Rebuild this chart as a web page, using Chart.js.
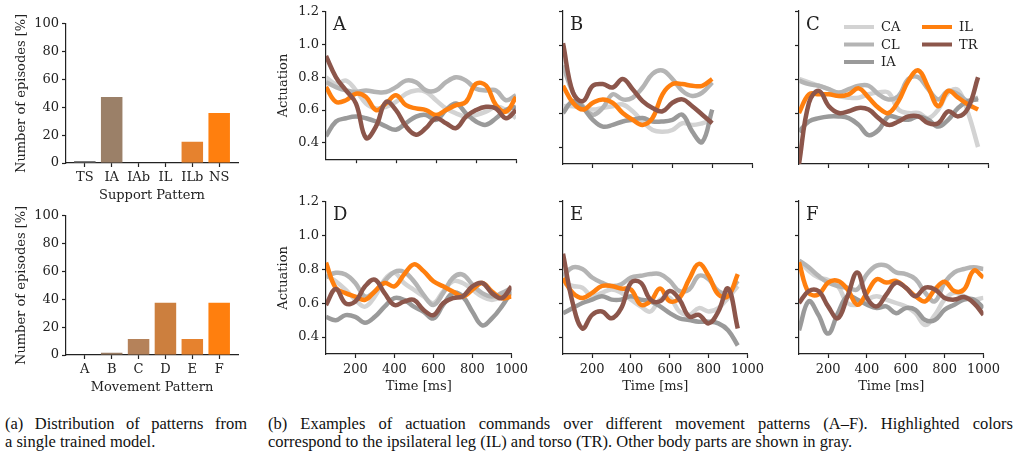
<!DOCTYPE html>
<html>
<head>
<meta charset="utf-8">
<script src="https://cdn.jsdelivr.net/npm/chart.js@4.4.1/dist/chart.umd.min.js"></script>
<style>
  body { margin: 0; background: #fff; width: 1020px; height: 461px; overflow: hidden; position: relative; }
  canvas { position: absolute; }
  .cap { position: absolute; font-family: "Liberation Serif", "Times New Roman", serif; font-size: 16.5px; line-height: 18px; color: #111; white-space: nowrap; }
  .just { text-align: justify; text-align-last: justify; white-space: normal; }
</style>
</head>
<body>
<canvas id="barSupport"></canvas>
<canvas id="barMovement"></canvas>
<canvas id="panelA"></canvas>
<canvas id="panelB"></canvas>
<canvas id="panelC"></canvas>
<canvas id="panelD"></canvas>
<canvas id="panelE"></canvas>
<canvas id="panelF"></canvas>

<div class="cap just" style="left:5px; top:415px; width:242px;">(a) Distribution of patterns from</div>
<div class="cap" style="left:5px; top:433px;">a single trained model.</div>
<div class="cap just" style="left:268px; top:415px; width:745px;">(b) Examples of actuation commands over different movement patterns (A–F). Highlighted colors</div>
<div class="cap" style="left:268px; top:433px;">correspond to the ipsilateral leg (IL) and torso (TR). Other body parts are shown in gray.</div>

<script>
// bar panels (a)
const SUPPORT_LABELS = ["TS", "IA", "IAb", "IL", "ILb", "NS"];
const SUPPORT_VALUES = [1.4, 47.5, 0, 0, 15.3, 36.0];
const SUPPORT_COLORS = ["#7a7a7a", "#9b8068", "#b0805c", "#c8803f", "#e6822e", "#ff7f0e"];

const MOVEMENT_LABELS = ["A", "B", "C", "D", "E", "F"];
const MOVEMENT_VALUES = [0, 1.6, 11.5, 37.5, 11.5, 37.5];
const MOVEMENT_COLORS = ["#8c7868", "#9b7e64", "#b5825a", "#cc7f3e", "#e6822e", "#ff7f0e"];

const BAR_Y_TICKS = [0, 20, 40, 60, 80, 100];

// actuation panels (b)
const TIME = [50, 100, 150, 200, 250, 300, 350, 400, 450, 500, 550, 600, 650, 700, 750, 800, 850, 900, 950, 1000];
const TIME_TICKS = [200, 400, 600, 800, 1000];
const ACT_TICKS = [0.4, 0.6, 0.8, 1.0, 1.2];
const PARTS = ["CA", "CL", "IA", "IL", "TR"];
const PART_COLORS = ["#d3d3d3", "#b4b4b4", "#9a9a9a", "#ff7f0e", "#8c564b"];

const A_CA = [0.80, 0.76, 0.78, 0.72, 0.64, 0.61, 0.62, 0.65, 0.70, 0.72, 0.71, 0.66, 0.61, 0.58, 0.56, 0.57, 0.59, 0.62, 0.60, 0.55];
const A_CL = [0.77, 0.74, 0.72, 0.71, 0.72, 0.71, 0.71, 0.74, 0.78, 0.77, 0.72, 0.72, 0.77, 0.80, 0.78, 0.73, 0.72, 0.72, 0.66, 0.69];
const A_IA = [0.44, 0.53, 0.55, 0.56, 0.55, 0.53, 0.50, 0.48, 0.52, 0.56, 0.57, 0.54, 0.60, 0.64, 0.58, 0.53, 0.51, 0.55, 0.60, 0.62];
const A_IL = [0.74, 0.65, 0.66, 0.70, 0.68, 0.60, 0.64, 0.69, 0.63, 0.61, 0.60, 0.57, 0.60, 0.63, 0.65, 0.76, 0.75, 0.63, 0.59, 0.68];
const A_TR = [0.93, 0.80, 0.72, 0.64, 0.43, 0.50, 0.65, 0.60, 0.50, 0.45, 0.49, 0.55, 0.52, 0.49, 0.56, 0.60, 0.62, 0.61, 0.55, 0.60];

const B_CA = [0.64, 0.64, 0.63, 0.62, 0.63, 0.64, 0.65, 0.61, 0.55, 0.50, 0.49, 0.50, 0.54, 0.53, 0.54, 0.56];
const B_CL = [0.88, 0.72, 0.64, 0.59, 0.63, 0.71, 0.68, 0.69, 0.75, 0.83, 0.85, 0.80, 0.73, 0.70, 0.72, 0.78];
const B_IA = [0.60, 0.67, 0.63, 0.56, 0.52, 0.53, 0.55, 0.56, 0.57, 0.55, 0.55, 0.56, 0.59, 0.49, 0.43, 0.62];
const B_IL = [0.76, 0.66, 0.62, 0.66, 0.68, 0.66, 0.60, 0.56, 0.53, 0.57, 0.71, 0.77, 0.77, 0.76, 0.76, 0.80];
const B_TR = [1.01, 0.72, 0.67, 0.76, 0.77, 0.75, 0.80, 0.74, 0.67, 0.63, 0.61, 0.66, 0.68, 0.64, 0.59, 0.54];

const C_CA = [0.80, 0.78, 0.76, 0.74, 0.70, 0.69, 0.69, 0.71, 0.72, 0.72, 0.62, 0.60, 0.60, 0.57, 0.62, 0.72, 0.735, 0.60, 0.40];
const C_CL = [0.79, 0.77, 0.76, 0.74, 0.72, 0.74, 0.76, 0.76, 0.71, 0.68, 0.70, 0.80, 0.81, 0.74, 0.68, 0.73, 0.71, 0.67, 0.69];
const C_IA = [0.49, 0.55, 0.57, 0.58, 0.58, 0.57, 0.53, 0.47, 0.50, 0.58, 0.57, 0.56, 0.58, 0.56, 0.52, 0.56, 0.63, 0.67, 0.68];
const C_IL = [0.60, 0.71, 0.71, 0.71, 0.70, 0.71, 0.745, 0.69, 0.63, 0.60, 0.67, 0.79, 0.85, 0.75, 0.64, 0.73, 0.69, 0.65, 0.62];
const C_TR = [0.30, 0.66, 0.73, 0.64, 0.60, 0.61, 0.63, 0.62, 0.57, 0.53, 0.55, 0.58, 0.58, 0.54, 0.54, 0.61, 0.58, 0.63, 0.81];

const D_CA = [0.765, 0.73, 0.68, 0.62, 0.58, 0.64, 0.74, 0.78, 0.72, 0.68, 0.64, 0.60, 0.67, 0.73, 0.72, 0.68, 0.64, 0.62, 0.64, 0.68];
const D_CL = [0.755, 0.78, 0.77, 0.72, 0.64, 0.67, 0.73, 0.785, 0.785, 0.73, 0.65, 0.59, 0.66, 0.75, 0.77, 0.71, 0.66, 0.64, 0.66, 0.69];
const D_IA = [0.52, 0.50, 0.53, 0.52, 0.485, 0.52, 0.58, 0.63, 0.62, 0.58, 0.55, 0.51, 0.59, 0.66, 0.64, 0.55, 0.47, 0.51, 0.58, 0.67];
const D_IL = [0.84, 0.69, 0.66, 0.64, 0.62, 0.67, 0.72, 0.70, 0.77, 0.83, 0.79, 0.73, 0.70, 0.67, 0.64, 0.68, 0.72, 0.67, 0.63, 0.64];
const D_TR = [0.59, 0.685, 0.60, 0.61, 0.70, 0.74, 0.66, 0.59, 0.61, 0.62, 0.56, 0.53, 0.60, 0.63, 0.64, 0.70, 0.72, 0.66, 0.63, 0.70];

const E_CA = [0.72, 0.70, 0.69, 0.64, 0.66, 0.68, 0.66, 0.62, 0.58, 0.55, 0.62, 0.63, 0.55, 0.53, 0.57, 0.55, 0.57, 0.63, 0.70];
const E_CL = [0.76, 0.81, 0.80, 0.75, 0.72, 0.70, 0.71, 0.75, 0.76, 0.77, 0.77, 0.73, 0.67, 0.68, 0.76, 0.74, 0.67, 0.66, 0.73];
const E_IA = [0.54, 0.57, 0.60, 0.62, 0.64, 0.62, 0.62, 0.64, 0.62, 0.61, 0.58, 0.54, 0.51, 0.50, 0.49, 0.49, 0.48, 0.44, 0.35];
const E_IL = [0.745, 0.66, 0.63, 0.66, 0.70, 0.70, 0.685, 0.68, 0.59, 0.61, 0.685, 0.61, 0.63, 0.74, 0.83, 0.76, 0.65, 0.64, 0.77];
const E_TR = [0.89, 0.60, 0.45, 0.53, 0.55, 0.51, 0.57, 0.72, 0.72, 0.62, 0.61, 0.67, 0.62, 0.52, 0.53, 0.48, 0.55, 0.685, 0.45];

const F_CA = [0.85, 0.79, 0.75, 0.735, 0.70, 0.60, 0.59, 0.62, 0.64, 0.62, 0.60, 0.58, 0.54, 0.47, 0.53, 0.62, 0.66, 0.64, 0.62, 0.63];
const F_CL = [0.85, 0.81, 0.76, 0.72, 0.70, 0.69, 0.68, 0.77, 0.82, 0.82, 0.78, 0.77, 0.74, 0.66, 0.61, 0.72, 0.78, 0.80, 0.81, 0.80];
const F_IA = [0.44, 0.61, 0.53, 0.42, 0.54, 0.64, 0.62, 0.59, 0.57, 0.58, 0.54, 0.57, 0.56, 0.50, 0.50, 0.56, 0.59, 0.62, 0.62, 0.57];
const F_IL = [0.84, 0.66, 0.65, 0.72, 0.73, 0.68, 0.59, 0.66, 0.74, 0.72, 0.73, 0.69, 0.64, 0.61, 0.68, 0.725, 0.67, 0.68, 0.79, 0.75];
const F_TR = [0.60, 0.67, 0.67, 0.58, 0.51, 0.64, 0.78, 0.63, 0.58, 0.65, 0.72, 0.69, 0.64, 0.69, 0.68, 0.63, 0.62, 0.635, 0.60, 0.53];

const INK = "#222";
const FONT = "'DejaVu Serif', serif";

Chart.defaults.font.family = FONT;
Chart.defaults.font.size = 13;
Chart.defaults.color = INK;

function place(canvas, left, top, width, height) {
  canvas.width = width;
  canvas.height = height;
  canvas.style.left = left + "px";
  canvas.style.top = top + "px";
  canvas.style.width = width + "px";
  canvas.style.height = height + "px";
}

function axisLook() {
  return {
    grid: { display: true, offset: false, drawOnChartArea: false, drawTicks: true, tickLength: 4, tickWidth: 1.2, tickColor: INK },
    border: { display: true, color: INK, width: 1.2 },
  };
}

const letterPlugin = {
  id: "letter",
  afterDraw(chart, args, opts) {
    if (!opts.text) return;
    const { ctx, chartArea } = chart;
    ctx.save();
    ctx.font = "18px " + FONT;
    ctx.fillStyle = INK;
    ctx.textBaseline = "alphabetic";
    ctx.fillText(opts.text, chartArea.left + 7, chartArea.top + 18.5);
    ctx.restore();
  }
};

const partLegend = {
  id: "partLegend",
  afterDraw(chart, args, opts) {
    if (!opts.show) return;
    const { ctx, chartArea } = chart;
    ctx.save();
    ctx.font = "13px " + FONT;
    ctx.fillStyle = INK;
    ctx.textBaseline = "middle";
    chart.data.datasets.forEach((ds, i) => {
      const col = i < 3 ? 0 : 1;
      const row = i < 3 ? i : i - 3;
      const x0 = chartArea.left + 45 + col * 78;
      const y = chartArea.top + 16 + row * 17.5;
      ctx.strokeStyle = ds.borderColor;
      ctx.lineWidth = 4;
      ctx.beginPath();
      ctx.moveTo(x0, y);
      ctx.lineTo(x0 + 30, y);
      ctx.stroke();
      ctx.fillText(ds.label, x0 + 37, y + 1);
    });
    ctx.restore();
  }
};

// plot area rectangles are given as the axes box in page pixels
function barChart(id, box, labels, values, colors, xTitle) {
  const YW = 66, XH = 44, PT = 10, PR = 12;
  const canvas = document.getElementById(id);
  place(canvas, box.left - YW, box.top - PT, box.right - box.left + YW + PR, box.bottom - box.top + PT + XH);
  new Chart(canvas, {
    type: "bar",
    data: {
      datasets: [{
        data: values.map((v, i) => ({ x: i, y: v })),
        backgroundColor: colors,
        barPercentage: 0.8,
        categoryPercentage: 1.0,
      }]
    },
    options: {
      responsive: false,
      animation: false,
      devicePixelRatio: 1,
      layout: { padding: { top: PT, right: PR, left: 0, bottom: 0 } },
      plugins: { legend: { display: false }, tooltip: { enabled: false } },
      scales: {
        x: {
          type: "linear", min: -0.7, max: 5.7, offset: false,
          afterBuildTicks: (s) => { s.ticks = labels.map((_, i) => ({ value: i })); },
          afterFit: (s) => { s.height = XH; },
          ticks: { padding: 3, maxRotation: 0, callback: (v) => labels[v] },
          title: { display: true, text: xTitle, padding: { top: 0, bottom: 4 } },
          ...axisLook(),
        },
        y: {
          min: 0, max: 100,
          afterBuildTicks: (s) => { s.ticks = BAR_Y_TICKS.map((v) => ({ value: v })); },
          afterFit: (s) => { s.width = YW; },
          ticks: { padding: 3, callback: (v) => String(v) },
          title: { display: true, text: "Number of episodes [%]", padding: { top: 14, bottom: 0 } },
          ...axisLook(),
        }
      }
    }
  });
}

function lineChart(id, box, letter, series, showX, showY, legend) {
  const YW = 60, PT = 10, PR = 16;
  const XH = showX ? 44 : 6;
  const canvas = document.getElementById(id);
  place(canvas, box.left - YW, box.top - PT, box.right - box.left + YW + PR, box.bottom - box.top + PT + XH);
  const order = [5, 4, 3, 2, 1];
  new Chart(canvas, {
    type: "line",
    data: {
      datasets: series.map((vals, k) => ({
        label: PARTS[k],
        data: vals.map((v, i) => ({ x: TIME[i], y: v })),
        borderColor: PART_COLORS[k],
        borderWidth: 4.5,
        borderJoinStyle: "round",
        pointRadius: 0,
        tension: 0.4,
        clip: 0,
        order: order[k],
      }))
    },
    options: {
      responsive: false,
      animation: false,
      devicePixelRatio: 1,
      layout: { padding: { top: PT, right: PR, left: 0, bottom: 0 } },
      plugins: {
        legend: { display: false },
        tooltip: { enabled: false },
        letter: { text: letter },
        partLegend: { show: legend },
      },
      scales: {
        x: {
          type: "linear", min: 50, max: 1000,
          afterBuildTicks: (s) => { s.ticks = TIME_TICKS.map((v) => ({ value: v })); },
          afterFit: (s) => { s.height = XH; },
          ticks: { display: showX, padding: 4, maxRotation: 0, callback: (v) => String(v) },
          title: { display: showX, text: "Time [ms]", padding: { top: 0, bottom: 4 } },
          ...axisLook(),
        },
        y: {
          type: "linear", min: 0.3, max: 1.2,
          afterBuildTicks: (s) => { s.ticks = ACT_TICKS.map((v) => ({ value: v })); },
          afterFit: (s) => { s.width = YW; },
          ticks: { display: showY, padding: 3, callback: (v) => v.toFixed(1) },
          title: { display: showY, text: "Actuation", padding: { top: 10, bottom: 0 } },
          ...axisLook(),
        }
      }
    },
    plugins: [letterPlugin, partLegend]
  });
}

barChart("barSupport", { left: 66, right: 238, top: 23, bottom: 163 }, SUPPORT_LABELS, SUPPORT_VALUES, SUPPORT_COLORS, "Support Pattern");
barChart("barMovement", { left: 66, right: 238, top: 215, bottom: 355 }, MOVEMENT_LABELS, MOVEMENT_VALUES, MOVEMENT_COLORS, "Movement Pattern");

lineChart("panelA", { left: 326, right: 516, top: 11, bottom: 164 }, "A", [A_CA, A_CL, A_IA, A_IL, A_TR], false, true, false);
lineChart("panelB", { left: 563, right: 752, top: 11, bottom: 164 }, "B", [B_CA, B_CL, B_IA, B_IL, B_TR], false, false, false);
lineChart("panelC", { left: 799, right: 988, top: 11, bottom: 164 }, "C", [C_CA, C_CL, C_IA, C_IL, C_TR], false, false, true);
lineChart("panelD", { left: 326, right: 516, top: 201, bottom: 354 }, "D", [D_CA, D_CL, D_IA, D_IL, D_TR], true, true, false);
lineChart("panelE", { left: 563, right: 752, top: 201, bottom: 354 }, "E", [E_CA, E_CL, E_IA, E_IL, E_TR], true, false, false);
lineChart("panelF", { left: 799, right: 988, top: 201, bottom: 354 }, "F", [F_CA, F_CL, F_IA, F_IL, F_TR], true, false, false);
</script>
</body>
</html>
